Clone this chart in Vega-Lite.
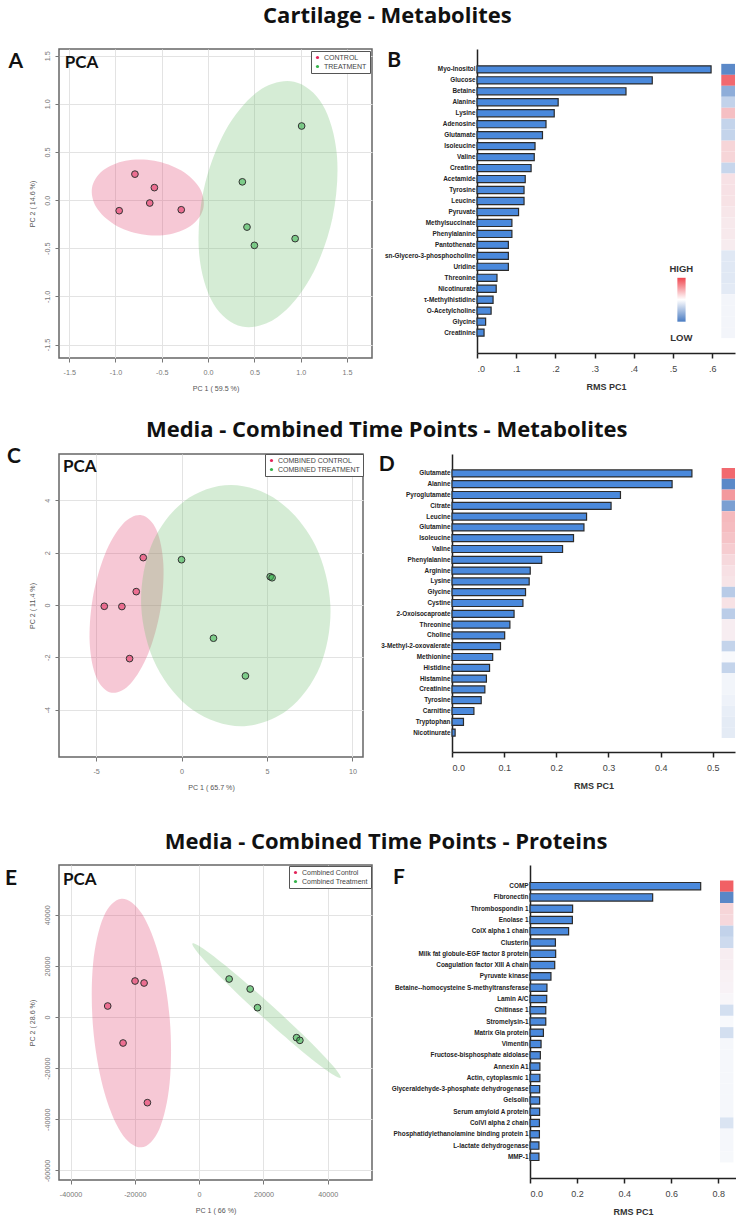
{
  "$schema": "https://vega.github.io/schema/vega-lite/v6.json",
  "padding": {"left": 4, "top": 5, "right": 0, "bottom": 0},
  "config": {
    "font": "Liberation Sans",
    "view": {"stroke": null},
    "title": {"font": "Open Sans", "fontSize": 22, "fontWeight": "bold", "color": "#111"},
    "axis": {"labelFont": "Liberation Sans", "titleFont": "Liberation Sans"},
    "legend": {"orient": "top-right", "offset": 1, "padding": 3, "strokeColor": "#555", "fillColor": "#ffffff", "labelFontSize": 7, "labelColor": "#444", "labelFont": "Liberation Sans", "symbolSize": 10, "symbolType": "circle", "rowPadding": 1, "symbolStrokeWidth": 0, "symbolOpacity": 1, "labelOffset": 3}
  },
  "datasets": {
    "ptsA": [
      {"group": "CONTROL", "pc1": -0.79, "pc2": 0.27},
      {"group": "CONTROL", "pc1": -0.58, "pc2": 0.13},
      {"group": "CONTROL", "pc1": -0.63, "pc2": -0.03},
      {"group": "CONTROL", "pc1": -0.96, "pc2": -0.11},
      {"group": "CONTROL", "pc1": -0.29, "pc2": -0.10},
      {"group": "TREATMENT", "pc1": 1.01, "pc2": 0.77},
      {"group": "TREATMENT", "pc1": 0.37, "pc2": 0.19},
      {"group": "TREATMENT", "pc1": 0.42, "pc2": -0.28},
      {"group": "TREATMENT", "pc1": 0.50, "pc2": -0.47},
      {"group": "TREATMENT", "pc1": 0.94, "pc2": -0.40}
    ],
    "ellA": [
      {"group": "CONTROL", "i": 0, "pc1": -0.049, "pc2": -0.074},
      {"group": "CONTROL", "i": 1, "pc1": -0.165, "pc2": -0.251},
      {"group": "CONTROL", "i": 2, "pc1": -0.411, "pc2": -0.354},
      {"group": "CONTROL", "i": 3, "pc1": -0.721, "pc2": -0.354},
      {"group": "CONTROL", "i": 4, "pc1": -1.013, "pc2": -0.252},
      {"group": "CONTROL", "i": 5, "pc1": -1.207, "pc2": -0.075},
      {"group": "CONTROL", "i": 6, "pc1": -1.253, "pc2": 0.130},
      {"group": "CONTROL", "i": 7, "pc1": -1.137, "pc2": 0.307},
      {"group": "CONTROL", "i": 8, "pc1": -0.891, "pc2": 0.410},
      {"group": "CONTROL", "i": 9, "pc1": -0.581, "pc2": 0.410},
      {"group": "CONTROL", "i": 10, "pc1": -0.289, "pc2": 0.308},
      {"group": "CONTROL", "i": 11, "pc1": -0.095, "pc2": 0.131},
      {"group": "TREATMENT", "i": 0, "pc1": 0.928, "pc2": 1.230},
      {"group": "TREATMENT", "i": 1, "pc1": 1.238, "pc2": 0.989},
      {"group": "TREATMENT", "i": 2, "pc1": 1.391, "pc2": 0.470},
      {"group": "TREATMENT", "i": 3, "pc1": 1.343, "pc2": -0.185},
      {"group": "TREATMENT", "i": 4, "pc1": 1.109, "pc2": -0.802},
      {"group": "TREATMENT", "i": 5, "pc1": 0.752, "pc2": -1.215},
      {"group": "TREATMENT", "i": 6, "pc1": 0.366, "pc2": -1.314},
      {"group": "TREATMENT", "i": 7, "pc1": 0.056, "pc2": -1.073},
      {"group": "TREATMENT", "i": 8, "pc1": -0.097, "pc2": -0.554},
      {"group": "TREATMENT", "i": 9, "pc1": -0.049, "pc2": 0.101},
      {"group": "TREATMENT", "i": 10, "pc1": 0.185, "pc2": 0.718},
      {"group": "TREATMENT", "i": 11, "pc1": 0.542, "pc2": 1.131}
    ],
    "ptsC": [
      {"group": "COMBINED CONTROL", "pc1": -2.24, "pc2": 1.81},
      {"group": "COMBINED CONTROL", "pc1": -2.65, "pc2": 0.51},
      {"group": "COMBINED CONTROL", "pc1": -4.52, "pc2": -0.05},
      {"group": "COMBINED CONTROL", "pc1": -3.49, "pc2": -0.06},
      {"group": "COMBINED CONTROL", "pc1": -3.04, "pc2": -2.05},
      {"group": "COMBINED TREATMENT", "pc1": 0.0, "pc2": 1.73},
      {"group": "COMBINED TREATMENT", "pc1": 5.19, "pc2": 1.08},
      {"group": "COMBINED TREATMENT", "pc1": 5.30, "pc2": 1.04},
      {"group": "COMBINED TREATMENT", "pc1": 1.87, "pc2": -1.27},
      {"group": "COMBINED TREATMENT", "pc1": 3.74, "pc2": -2.71}
    ],
    "ellC": [
      {"group": "COMBINED CONTROL", "i": 0, "pc1": -2.337, "pc2": 3.429},
      {"group": "COMBINED CONTROL", "i": 1, "pc1": -1.465, "pc2": 2.865},
      {"group": "COMBINED CONTROL", "i": 2, "pc1": -1.061, "pc2": 1.544},
      {"group": "COMBINED CONTROL", "i": 3, "pc1": -1.236, "pc2": -0.181},
      {"group": "COMBINED CONTROL", "i": 4, "pc1": -1.941, "pc2": -1.848},
      {"group": "COMBINED CONTROL", "i": 5, "pc1": -2.987, "pc2": -3.009},
      {"group": "COMBINED CONTROL", "i": 6, "pc1": -4.095, "pc2": -3.353},
      {"group": "COMBINED CONTROL", "i": 7, "pc1": -4.967, "pc2": -2.789},
      {"group": "COMBINED CONTROL", "i": 8, "pc1": -5.371, "pc2": -1.468},
      {"group": "COMBINED CONTROL", "i": 9, "pc1": -5.196, "pc2": 0.257},
      {"group": "COMBINED CONTROL", "i": 10, "pc1": -4.491, "pc2": 1.924},
      {"group": "COMBINED CONTROL", "i": 11, "pc1": -3.445, "pc2": 3.085},
      {"group": "COMBINED TREATMENT", "i": 0, "pc1": 2.885, "pc2": 4.586},
      {"group": "COMBINED TREATMENT", "i": 1, "pc1": 5.692, "pc2": 3.968},
      {"group": "COMBINED TREATMENT", "i": 2, "pc1": 7.825, "pc2": 2.281},
      {"group": "COMBINED TREATMENT", "i": 3, "pc1": 8.713, "pc2": -0.025},
      {"group": "COMBINED TREATMENT", "i": 4, "pc1": 8.117, "pc2": -2.331},
      {"group": "COMBINED TREATMENT", "i": 5, "pc1": 6.198, "pc2": -4.018},
      {"group": "COMBINED TREATMENT", "i": 6, "pc1": 3.469, "pc2": -4.636},
      {"group": "COMBINED TREATMENT", "i": 7, "pc1": 0.662, "pc2": -4.018},
      {"group": "COMBINED TREATMENT", "i": 8, "pc1": -1.471, "pc2": -2.331},
      {"group": "COMBINED TREATMENT", "i": 9, "pc1": -2.359, "pc2": -0.025},
      {"group": "COMBINED TREATMENT", "i": 10, "pc1": -1.763, "pc2": 2.281},
      {"group": "COMBINED TREATMENT", "i": 11, "pc1": 0.156, "pc2": 3.968}
    ],
    "ptsE": [
      {"group": "Combined Control", "pc1": -19930, "pc2": 14080},
      {"group": "Combined Control", "pc1": -17120, "pc2": 13300},
      {"group": "Combined Control", "pc1": -28440, "pc2": 4300},
      {"group": "Combined Control", "pc1": -23660, "pc2": -10170},
      {"group": "Combined Control", "pc1": -16090, "pc2": -33510},
      {"group": "Combined Treatment", "pc1": 9340, "pc2": 14860},
      {"group": "Combined Treatment", "pc1": 15880, "pc2": 10950},
      {"group": "Combined Treatment", "pc1": 18160, "pc2": 3650},
      {"group": "Combined Treatment", "pc1": 30310, "pc2": -8080},
      {"group": "Combined Treatment", "pc1": 31340, "pc2": -9130}
    ],
    "ellE": [
      {"group": "Combined Control", "i": 0, "pc1": -24183, "pc2": 46284},
      {"group": "Combined Control", "i": 1, "pc1": -17787, "pc2": 40367},
      {"group": "Combined Control", "i": 2, "pc1": -12271, "pc2": 23007},
      {"group": "Combined Control", "i": 3, "pc1": -9112, "pc2": -1148},
      {"group": "Combined Control", "i": 4, "pc1": -9157, "pc2": -25625},
      {"group": "Combined Control", "i": 5, "pc1": -12393, "pc2": -43861},
      {"group": "Combined Control", "i": 6, "pc1": -17955, "pc2": -50978},
      {"group": "Combined Control", "i": 7, "pc1": -24351, "pc2": -45061},
      {"group": "Combined Control", "i": 8, "pc1": -29867, "pc2": -27701},
      {"group": "Combined Control", "i": 9, "pc1": -33026, "pc2": -3546},
      {"group": "Combined Control", "i": 10, "pc1": -32981, "pc2": 20931},
      {"group": "Combined Control", "i": 11, "pc1": -29745, "pc2": 39167},
      {"group": "Combined Treatment", "i": 0, "pc1": 44006, "pc2": -23794},
      {"group": "Combined Treatment", "i": 1, "pc1": 40151, "pc2": -21337},
      {"group": "Combined Treatment", "i": 2, "pc1": 31156, "pc2": -12499},
      {"group": "Combined Treatment", "i": 3, "pc1": 19429, "pc2": 352},
      {"group": "Combined Treatment", "i": 4, "pc1": 8114, "pc2": 13773},
      {"group": "Combined Treatment", "i": 5, "pc1": 243, "pc2": 24165},
      {"group": "Combined Treatment", "i": 6, "pc1": -2076, "pc2": 28748},
      {"group": "Combined Treatment", "i": 7, "pc1": 1779, "pc2": 26291},
      {"group": "Combined Treatment", "i": 8, "pc1": 10774, "pc2": 17453},
      {"group": "Combined Treatment", "i": 9, "pc1": 22501, "pc2": 4602},
      {"group": "Combined Treatment", "i": 10, "pc1": 33816, "pc2": -8819},
      {"group": "Combined Treatment", "i": 11, "pc1": 41687, "pc2": -19211}
    ],
    "barB": [
      {"name": "Myo-Inositol", "rms": 0.597, "z": -0.90},
      {"name": "Glucose", "rms": 0.447, "z": 0.87},
      {"name": "Betaine", "rms": 0.380, "z": -0.61},
      {"name": "Alanine", "rms": 0.207, "z": -0.31},
      {"name": "Lysine", "rms": 0.197, "z": 0.35},
      {"name": "Adenosine", "rms": 0.176, "z": -0.30},
      {"name": "Glutamate", "rms": 0.167, "z": -0.30},
      {"name": "Isoleucine", "rms": 0.148, "z": 0.22},
      {"name": "Valine", "rms": 0.146, "z": 0.22},
      {"name": "Creatine", "rms": 0.138, "z": -0.28},
      {"name": "Acetamide", "rms": 0.123, "z": 0.145},
      {"name": "Tyrosine", "rms": 0.120, "z": 0.145},
      {"name": "Leucine", "rms": 0.120, "z": 0.14},
      {"name": "Pyruvate", "rms": 0.106, "z": 0.115},
      {"name": "Methylsuccinate", "rms": 0.089, "z": 0.10},
      {"name": "Phenylalanine", "rms": 0.089, "z": 0.10},
      {"name": "Pantothenate", "rms": 0.080, "z": 0.08},
      {"name": "sn-Glycero-3-phosphocholine", "rms": 0.080, "z": -0.14},
      {"name": "Uridine", "rms": 0.080, "z": -0.14},
      {"name": "Threonine", "rms": 0.051, "z": -0.14},
      {"name": "Nicotinurate", "rms": 0.049, "z": -0.12},
      {"name": "τ-Methylhistidine", "rms": 0.041, "z": -0.03},
      {"name": "O-Acetylcholine", "rms": 0.036, "z": -0.03},
      {"name": "Glycine", "rms": 0.022, "z": -0.03},
      {"name": "Creatinine", "rms": 0.018, "z": -0.03}
    ],
    "barD": [
      {"name": "Glutamate", "rms": 0.460, "z": 0.87},
      {"name": "Alanine", "rms": 0.422, "z": -0.90},
      {"name": "Pyroglutamate", "rms": 0.323, "z": 0.58},
      {"name": "Citrate", "rms": 0.305, "z": -0.72},
      {"name": "Leucine", "rms": 0.258, "z": 0.39},
      {"name": "Glutamine", "rms": 0.253, "z": 0.37},
      {"name": "Isoleucine", "rms": 0.233, "z": 0.33},
      {"name": "Valine", "rms": 0.212, "z": 0.27},
      {"name": "Phenylalanine", "rms": 0.172, "z": 0.20},
      {"name": "Arginine", "rms": 0.150, "z": 0.15},
      {"name": "Lysine", "rms": 0.148, "z": 0.13},
      {"name": "Glycine", "rms": 0.141, "z": -0.37},
      {"name": "Cystine", "rms": 0.136, "z": 0.14},
      {"name": "2-Oxoisocaproate", "rms": 0.119, "z": -0.35},
      {"name": "Threonine", "rms": 0.111, "z": 0.07},
      {"name": "Choline", "rms": 0.101, "z": 0.07},
      {"name": "3-Methyl-2-oxovalerate", "rms": 0.093, "z": -0.30},
      {"name": "Methionine", "rms": 0.078, "z": 0.0},
      {"name": "Histidine", "rms": 0.072, "z": -0.30},
      {"name": "Histamine", "rms": 0.066, "z": -0.035},
      {"name": "Creatinine", "rms": 0.063, "z": -0.035},
      {"name": "Tyrosine", "rms": 0.056, "z": -0.06},
      {"name": "Carnitine", "rms": 0.042, "z": -0.09},
      {"name": "Tryptophan", "rms": 0.022, "z": -0.115},
      {"name": "Nicotinurate", "rms": 0.006, "z": -0.115}
    ],
    "barF": [
      {"name": "COMP", "rms": 0.725, "z": 0.93},
      {"name": "Fibronectin", "rms": 0.521, "z": -0.91},
      {"name": "Thrombospondin 1", "rms": 0.181, "z": 0.22},
      {"name": "Enolase 1", "rms": 0.180, "z": 0.20},
      {"name": "ColX alpha 1 chain", "rms": 0.164, "z": -0.31},
      {"name": "Clusterin", "rms": 0.108, "z": -0.25},
      {"name": "Milk fat globule-EGF factor 8 protein", "rms": 0.109, "z": 0.07},
      {"name": "Coagulation factor XIII A chain", "rms": 0.105, "z": 0.07},
      {"name": "Pyruvate kinase", "rms": 0.089, "z": 0.05},
      {"name": "Betaine--homocysteine S-methyltransferase", "rms": 0.072, "z": 0.04},
      {"name": "Lamin A/C", "rms": 0.071, "z": 0.02},
      {"name": "Chitinase 1", "rms": 0.067, "z": -0.21},
      {"name": "Stromelysin-1", "rms": 0.067, "z": 0.0},
      {"name": "Matrix Gla protein", "rms": 0.057, "z": -0.21},
      {"name": "Vimentin", "rms": 0.047, "z": -0.02},
      {"name": "Fructose-bisphosphate aldolase", "rms": 0.044, "z": -0.02},
      {"name": "Annexin A1", "rms": 0.042, "z": -0.02},
      {"name": "Actin, cytoplasmic 1", "rms": 0.042, "z": -0.02},
      {"name": "Glyceraldehyde-3-phosphate dehydrogenase", "rms": 0.041, "z": -0.02},
      {"name": "Gelsolin", "rms": 0.041, "z": -0.02},
      {"name": "Serum amyloid A protein", "rms": 0.041, "z": -0.02},
      {"name": "ColVI alpha 2 chain", "rms": 0.040, "z": -0.17},
      {"name": "Phosphatidylethanolamine binding protein 1", "rms": 0.040, "z": -0.02},
      {"name": "L-lactate dehydrogenase", "rms": 0.038, "z": -0.02},
      {"name": "MMP-1", "rms": 0.038, "z": -0.01}
    ]
  },
  "resolve": {"scale": {"fill": "independent", "color": "independent"}, "legend": {"fill": "independent", "color": "independent"}},
  "spacing": 39,
  "vconcat": [
    {
      "spacing": 25,
      "resolve": {"scale": {"fill": "independent", "color": "independent"}, "legend": {"fill": "independent", "color": "independent"}},
      "vconcat": [
        {
          "title": {"text": "Cartilage - Metabolites", "anchor": "middle", "offset": 20, "dx": 16},
          "spacing": 11,
          "resolve": {"scale": {"fill": "independent", "color": "independent"}, "legend": {"fill": "independent", "color": "independent"}},
          "hconcat": [
            {
              "width": 313, "height": 309,
              "view": {"stroke": "#666", "strokeWidth": 1.5},
              "layer": [
                {
                  "data": {"name": "ellA"},
                  "transform": [{"filter": {"field": "group", "equal": "CONTROL"}}],
                  "mark": {"type": "line", "interpolate": "cardinal-closed", "fill": "#e14873", "fillOpacity": 0.3, "strokeOpacity": 0},
                  "encoding": {
                    "x": {"field": "pc1", "type": "quantitative", "scale": {"domain": [-1.61, 1.77], "nice": false, "zero": false}},
                    "y": {"field": "pc2", "type": "quantitative", "scale": {"domain": [-1.64, 1.57], "nice": false, "zero": false}},
                    "order": {"field": "i", "type": "quantitative"}
                  }
                },
                {
                  "data": {"name": "ellA"},
                  "transform": [{"filter": {"field": "group", "equal": "TREATMENT"}}],
                  "mark": {"type": "line", "interpolate": "cardinal-closed", "fill": "#73c073", "fillOpacity": 0.3, "strokeOpacity": 0},
                  "encoding": {
                    "x": {"field": "pc1", "type": "quantitative"},
                    "y": {"field": "pc2", "type": "quantitative"},
                    "order": {"field": "i", "type": "quantitative"}
                  }
                },
                {
                  "data": {"name": "ptsA"},
                  "mark": {"type": "point", "filled": true, "size": 45, "stroke": "#333", "strokeWidth": 1, "fillOpacity": 0.55, "strokeOpacity": 1},
                  "encoding": {
                    "x": {"field": "pc1", "type": "quantitative", "axis": {"title": "PC 1 ( 59.5 %)", "values": [-1.5, -1, -0.5, 0, 0.5, 1, 1.5], "format": ".1f", "labelExpr": "replace(datum.label, '−', '-')", "grid": true, "gridColor": "#e3e3e3", "domain": false, "tickColor": "#777", "tickSize": 4, "labelFontSize": 7.2, "labelColor": "#777", "labelPadding": 6, "titleFontSize": 7.1, "titleColor": "#555", "titleFontWeight": "normal", "titlePadding": 9}},
                    "y": {"field": "pc2", "type": "quantitative", "axis": {"title": "PC 2 ( 14.6 %)", "values": [-1.5, -1, -0.5, 0, 0.5, 1, 1.5], "format": ".1f", "labelExpr": "replace(datum.label, '−', '-')", "grid": true, "gridColor": "#e3e3e3", "domain": false, "tickColor": "#777", "tickSize": 4, "labelFontSize": 7.2, "labelColor": "#777", "labelAngle": 270, "labelAlign": "center", "labelBaseline": "bottom", "labelPadding": 3.5, "titleFontSize": 7.1, "titleColor": "#555", "titleFontWeight": "normal", "titlePadding": 8}},
                    "fill": {"field": "group", "type": "nominal", "scale": {"domain": ["CONTROL", "TREATMENT"], "range": ["#e3245a", "#35b34a"]}, "legend": {"title": null, "offset": 2}}
                  }
                },
                {
                  "data": {"values": [{}]},
                  "mark": {"type": "text", "text": "PCA", "font": "Lato", "fontWeight": "bold", "fontSize": 17, "align": "left", "baseline": "alphabetic", "color": "#111"},
                  "encoding": {"x": {"datum": -1.548}, "y": {"datum": 1.377}}
                },
                {
                  "data": {"values": [{}]},
                  "mark": {"type": "text", "text": "A", "font": "Lato", "fontWeight": "bold", "fontSize": 21, "align": "center", "baseline": "alphabetic", "color": "#111"},
                  "encoding": {"x": {"datum": -2.077}, "y": {"datum": 1.374}}
                }
              ]
            },
            {
              "width": 258, "height": 304,
              "data": {"name": "barB"},
              "layer": [
                {
                  "mark": {"type": "bar", "fill": "#4a89dc", "stroke": "#2b2b2b", "strokeWidth": 1.2},
                  "encoding": {
                    "y": {"field": "name", "type": "nominal", "scale": {"domain": ["", "Myo-Inositol", "Glucose", "Betaine", "Alanine", "Lysine", "Adenosine", "Glutamate", "Isoleucine", "Valine", "Creatine", "Acetamide", "Tyrosine", "Leucine", "Pyruvate", "Methylsuccinate", "Phenylalanine", "Pantothenate", "sn-Glycero-3-phosphocholine", "Uridine", "Threonine", "Nicotinurate", "τ-Methylhistidine", "O-Acetylcholine", "Glycine", "Creatinine", " "], "paddingInner": 0.35, "paddingOuter": 0.53}, "axis": {"title": null, "domainColor": "#222", "domainWidth": 1.5, "ticks": false, "labelFontSize": 6.4, "labelFontWeight": "bold", "labelColor": "#222", "labelPadding": 2, "labelLimit": 300}},
                    "x": {"field": "rms", "type": "quantitative", "scale": {"domain": [0, 0.658], "nice": false}, "axis": {"title": "RMS PC1", "values": [0, 0.1, 0.2, 0.3, 0.4, 0.5, 0.6], "format": ".1f", "labelExpr": "replace(datum.label, '0.', '.')", "grid": false, "domainColor": "#222", "domainWidth": 1.5, "tickColor": "#222", "tickWidth": 1.5, "tickSize": 5, "labelFontSize": 9, "labelColor": "#444", "labelPadding": 6, "titleFontSize": 9, "titleFontWeight": "bold", "titleColor": "#333", "titlePadding": 9}}
                  }
                },
                {
                  "mark": {"type": "bar", "height": {"band": 1.54}},
                  "encoding": {
                    "y": {"field": "name", "type": "nominal"},
                    "x": {"datum": 0.623},
                    "x2": {"datum": 0.658},
                    "color": {"field": "z", "type": "quantitative", "scale": {"domain": [-1, 0, 1], "range": ["#4a7cc2", "#f8f9fc", "#f0545a"], "interpolate": "rgb"}, "legend": null}
                  }
                },
                {
                  "data": {"values": [{}]},
                  "mark": {"type": "text", "text": "HIGH", "fontWeight": "bold", "fontSize": 9.5, "align": "center", "baseline": "middle", "color": "#333", "dy": 2.5},
                  "encoding": {"x": {"datum": 0.521}, "y": {"datum": "Uridine"}}
                },
                {
                  "data": {"values": [{}]},
                  "mark": {"type": "rect", "fill": {"gradient": "linear", "x1": 0, "y1": 0, "x2": 0, "y2": 1, "stops": [{"offset": 0, "color": "#f0464f"}, {"offset": 0.42, "color": "#fce4e6"}, {"offset": 0.5, "color": "#ffffff"}, {"offset": 0.58, "color": "#e4eaf5"}, {"offset": 1, "color": "#4a7cc2"}]}},
                  "encoding": {"x": {"datum": 0.511}, "x2": {"datum": 0.532}, "y": {"datum": "Threonine"}, "y2": {"datum": "Glycine"}}
                },
                {
                  "data": {"values": [{}]},
                  "mark": {"type": "text", "text": "LOW", "fontWeight": "bold", "fontSize": 9.5, "align": "center", "baseline": "middle", "color": "#333", "dy": 5.5},
                  "encoding": {"x": {"datum": 0.521}, "y": {"datum": "Creatinine"}}
                },
                {
                  "data": {"values": [{}]},
                  "mark": {"type": "text", "text": "B", "font": "Lato", "fontWeight": "bold", "fontSize": 21, "align": "center", "baseline": "alphabetic", "color": "#111", "dy": -2},
                  "encoding": {"x": {"datum": -0.211}, "y": {"datum": "Myo-Inositol"}}
                }
              ]
            }
          ]
        },
        {
          "title": {"text": "Media - Combined Time Points - Metabolites", "anchor": "middle", "offset": 3, "dx": 16},
          "spacing": 13,
          "resolve": {"scale": {"fill": "independent", "color": "independent"}, "legend": {"fill": "independent", "color": "independent"}},
          "hconcat": [
            {
              "width": 304, "height": 303,
              "view": {"stroke": "#666", "strokeWidth": 1.5},
              "layer": [
                {
                  "data": {"name": "ellC"},
                  "transform": [{"filter": {"field": "group", "equal": "COMBINED CONTROL"}}],
                  "mark": {"type": "line", "interpolate": "cardinal-closed", "fill": "#e14873", "fillOpacity": 0.3, "strokeOpacity": 0},
                  "encoding": {
                    "x": {"field": "pc1", "type": "quantitative", "scale": {"domain": [-7.17, 10.62], "nice": false, "zero": false}},
                    "y": {"field": "pc2", "type": "quantitative", "scale": {"domain": [-5.81, 5.77], "nice": false, "zero": false}},
                    "order": {"field": "i", "type": "quantitative"}
                  }
                },
                {
                  "data": {"name": "ellC"},
                  "transform": [{"filter": {"field": "group", "equal": "COMBINED TREATMENT"}}],
                  "mark": {"type": "line", "interpolate": "cardinal-closed", "fill": "#73c073", "fillOpacity": 0.3, "strokeOpacity": 0},
                  "encoding": {
                    "x": {"field": "pc1", "type": "quantitative"},
                    "y": {"field": "pc2", "type": "quantitative"},
                    "order": {"field": "i", "type": "quantitative"}
                  }
                },
                {
                  "data": {"name": "ptsC"},
                  "mark": {"type": "point", "filled": true, "size": 45, "stroke": "#333", "strokeWidth": 1, "fillOpacity": 0.55, "strokeOpacity": 1},
                  "encoding": {
                    "x": {"field": "pc1", "type": "quantitative", "axis": {"title": "PC 1 ( 65.7 %)", "values": [-5, 0, 5, 10], "format": "d", "labelExpr": "replace(datum.label, '−', '-')", "grid": true, "gridColor": "#e3e3e3", "domain": false, "tickColor": "#777", "tickSize": 4, "labelFontSize": 7.2, "labelColor": "#777", "labelPadding": 6, "titleFontSize": 7.1, "titleColor": "#555", "titleFontWeight": "normal", "titlePadding": 9}},
                    "y": {"field": "pc2", "type": "quantitative", "axis": {"title": "PC 2 ( 11.4 %)", "values": [-4, -2, 0, 2, 4], "format": "d", "labelExpr": "replace(datum.label, '−', '-')", "grid": true, "gridColor": "#e3e3e3", "domain": false, "tickColor": "#777", "tickSize": 4, "labelFontSize": 7.2, "labelColor": "#777", "labelAngle": 270, "labelAlign": "center", "labelBaseline": "bottom", "labelPadding": 3.5, "titleFontSize": 7.1, "titleColor": "#555", "titleFontWeight": "normal", "titlePadding": 8}},
                    "fill": {"field": "group", "type": "nominal", "scale": {"domain": ["COMBINED CONTROL", "COMBINED TREATMENT"], "range": ["#e3245a", "#35b34a"]}, "legend": {"title": null, "offset": 0}}
                  }
                },
                {
                  "data": {"values": [{}]},
                  "mark": {"type": "text", "text": "PCA", "font": "Lato", "fontWeight": "bold", "fontSize": 17, "align": "left", "baseline": "alphabetic", "color": "#111"},
                  "encoding": {"x": {"datum": -6.94}, "y": {"datum": 5.08}}
                },
                {
                  "data": {"values": [{}]},
                  "mark": {"type": "text", "text": "C", "font": "Lato", "fontWeight": "bold", "fontSize": 21, "align": "center", "baseline": "alphabetic", "color": "#111"},
                  "encoding": {"x": {"datum": -9.80}, "y": {"datum": 5.44}}
                }
              ]
            },
            {
              "width": 283, "height": 298,
              "data": {"name": "barD"},
              "layer": [
                {
                  "mark": {"type": "bar", "fill": "#4a89dc", "stroke": "#2b2b2b", "strokeWidth": 1.2},
                  "encoding": {
                    "y": {"field": "name", "type": "nominal", "scale": {"domain": ["", "Glutamate", "Alanine", "Pyroglutamate", "Citrate", "Leucine", "Glutamine", "Isoleucine", "Valine", "Phenylalanine", "Arginine", "Lysine", "Glycine", "Cystine", "2-Oxoisocaproate", "Threonine", "Choline", "3-Methyl-2-oxovalerate", "Methionine", "Histidine", "Histamine", "Creatinine", "Tyrosine", "Carnitine", "Tryptophan", "Nicotinurate", " "], "paddingInner": 0.35, "paddingOuter": 0.47}, "axis": {"title": null, "domainColor": "#222", "domainWidth": 1.5, "ticks": false, "labelFontSize": 6.4, "labelFontWeight": "bold", "labelColor": "#222", "labelPadding": 2, "labelLimit": 300}},
                    "x": {"field": "rms", "type": "quantitative", "scale": {"domain": [0, 0.5426], "nice": false}, "axis": {"title": "RMS PC1", "values": [0, 0.1, 0.2, 0.3, 0.4, 0.5], "format": ".1f", "grid": false, "domainColor": "#222", "domainWidth": 1.5, "tickColor": "#222", "tickWidth": 1.5, "tickSize": 5, "labelFontSize": 9, "labelColor": "#444", "labelPadding": 6, "titleFontSize": 9, "titleFontWeight": "bold", "titleColor": "#333", "titlePadding": 9}}
                  }
                },
                {
                  "mark": {"type": "bar", "height": {"band": 1.54}},
                  "encoding": {
                    "y": {"field": "name", "type": "nominal"},
                    "x": {"datum": 0.517},
                    "x2": {"datum": 0.5426},
                    "color": {"field": "z", "type": "quantitative", "scale": {"domain": [-1, 0, 1], "range": ["#4a7cc2", "#f8f9fc", "#f0545a"], "interpolate": "rgb"}, "legend": null}
                  }
                },
                {
                  "data": {"values": [{}]},
                  "mark": {"type": "text", "text": "D", "font": "Lato", "fontWeight": "bold", "fontSize": 21, "align": "center", "baseline": "alphabetic", "color": "#111", "dy": -2},
                  "encoding": {"x": {"datum": -0.125}, "y": {"datum": "Glutamate"}}
                }
              ]
            }
          ]
        }
      ]
    },
    {
      "title": {"text": "Media - Combined Time Points - Proteins", "anchor": "middle", "offset": 10, "dx": 16},
      "spacing": 18,
      "resolve": {"scale": {"fill": "independent", "color": "independent"}, "legend": {"fill": "independent", "color": "independent"}},
      "hconcat": [
        {
          "width": 313, "height": 315,
          "view": {"stroke": "#666", "strokeWidth": 1.5},
          "layer": [
            {
              "data": {"name": "ellE"},
              "transform": [{"filter": {"field": "group", "equal": "Combined Control"}}],
              "mark": {"type": "line", "interpolate": "cardinal-closed", "fill": "#e14873", "fillOpacity": 0.3, "strokeOpacity": 0},
              "encoding": {
                "x": {"field": "pc1", "type": "quantitative", "scale": {"domain": [-43590, 53780], "nice": false, "zero": false}},
                "y": {"field": "pc2", "type": "quantitative", "scale": {"domain": [-63760, 59460], "nice": false, "zero": false}},
                "order": {"field": "i", "type": "quantitative"}
              }
            },
            {
              "data": {"name": "ellE"},
              "transform": [{"filter": {"field": "group", "equal": "Combined Treatment"}}],
              "mark": {"type": "line", "interpolate": "cardinal-closed", "fill": "#73c073", "fillOpacity": 0.3, "strokeOpacity": 0},
              "encoding": {
                "x": {"field": "pc1", "type": "quantitative"},
                "y": {"field": "pc2", "type": "quantitative"},
                "order": {"field": "i", "type": "quantitative"}
              }
            },
            {
              "data": {"name": "ptsE"},
              "mark": {"type": "point", "filled": true, "size": 45, "stroke": "#333", "strokeWidth": 1, "fillOpacity": 0.55, "strokeOpacity": 1},
              "encoding": {
                "x": {"field": "pc1", "type": "quantitative", "axis": {"title": "PC 1 ( 66 %)", "values": [-40000, -20000, 0, 20000, 40000], "format": "d", "labelExpr": "replace(datum.label, '−', '-')", "grid": true, "gridColor": "#e3e3e3", "domain": false, "tickColor": "#777", "tickSize": 4, "labelFontSize": 7.2, "labelColor": "#777", "labelPadding": 6, "titleFontSize": 7.1, "titleColor": "#555", "titleFontWeight": "normal", "titlePadding": 9}},
                "y": {"field": "pc2", "type": "quantitative", "axis": {"title": "PC 2 ( 28.6 %)", "values": [-60000, -40000, -20000, 0, 20000, 40000], "format": "d", "labelExpr": "replace(datum.label, '−', '-')", "grid": true, "gridColor": "#e3e3e3", "domain": false, "tickColor": "#777", "tickSize": 4, "labelFontSize": 7.2, "labelColor": "#777", "labelAngle": 270, "labelAlign": "center", "labelBaseline": "bottom", "labelPadding": 3.5, "titleFontSize": 7.1, "titleColor": "#555", "titleFontWeight": "normal", "titlePadding": 8}},
                "fill": {"field": "group", "type": "nominal", "scale": {"domain": ["Combined Control", "Combined Treatment"], "range": ["#e3245a", "#35b34a"]}, "legend": {"title": null, "offset": 1}}
              }
            },
            {
              "data": {"values": [{}]},
              "mark": {"type": "text", "text": "PCA", "font": "Lato", "fontWeight": "bold", "fontSize": 17, "align": "left", "baseline": "alphabetic", "color": "#111"},
              "encoding": {"x": {"datum": -42350}, "y": {"datum": 51750}}
            },
            {
              "data": {"values": [{}]},
              "mark": {"type": "text", "text": "E", "font": "Lato", "fontWeight": "bold", "fontSize": 21, "align": "center", "baseline": "alphabetic", "color": "#111"},
              "encoding": {"x": {"datum": -58540}, "y": {"datum": 51750}}
            }
          ]
        },
        {
          "width": 206, "height": 313,
          "data": {"name": "barF"},
          "layer": [
            {
              "mark": {"type": "bar", "fill": "#4a89dc", "stroke": "#2b2b2b", "strokeWidth": 1.2},
              "encoding": {
                "y": {"field": "name", "type": "nominal", "scale": {"domain": ["", "COMP", "Fibronectin", "Thrombospondin 1", "Enolase 1", "ColX alpha 1 chain", "Clusterin", "Milk fat globule-EGF factor 8 protein", "Coagulation factor XIII A chain", "Pyruvate kinase", "Betaine--homocysteine S-methyltransferase", "Lamin A/C", "Chitinase 1", "Stromelysin-1", "Matrix Gla protein", "Vimentin", "Fructose-bisphosphate aldolase", "Annexin A1", "Actin, cytoplasmic 1", "Glyceraldehyde-3-phosphate dehydrogenase", "Gelsolin", "Serum amyloid A protein", "ColVI alpha 2 chain", "Phosphatidylethanolamine binding protein 1", "L-lactate dehydrogenase", "MMP-1", " "], "paddingInner": 0.35, "paddingOuter": 0.55}, "axis": {"title": null, "domainColor": "#222", "domainWidth": 1.5, "ticks": false, "labelFontSize": 6.4, "labelFontWeight": "bold", "labelColor": "#222", "labelPadding": 2, "labelLimit": 300}},
                "x": {"field": "rms", "type": "quantitative", "scale": {"domain": [0, 0.875], "nice": false}, "axis": {"title": "RMS PC1", "values": [0, 0.2, 0.4, 0.6, 0.8], "format": ".1f", "grid": false, "domainColor": "#222", "domainWidth": 1.5, "tickColor": "#222", "tickWidth": 1.5, "tickSize": 5, "labelFontSize": 9, "labelColor": "#444", "labelPadding": 6, "titleFontSize": 9, "titleFontWeight": "bold", "titleColor": "#333", "titlePadding": 9}}
              }
            },
            {
              "mark": {"type": "bar", "height": {"band": 1.54}},
              "encoding": {
                "y": {"field": "name", "type": "nominal"},
                "x": {"datum": 0.807},
                "x2": {"datum": 0.864},
                "color": {"field": "z", "type": "quantitative", "scale": {"domain": [-1, 0, 1], "range": ["#4a7cc2", "#f8f9fc", "#f0545a"], "interpolate": "rgb"}, "legend": null}
              }
            },
            {
              "data": {"values": [{}]},
              "mark": {"type": "text", "text": "F", "font": "Lato", "fontWeight": "bold", "fontSize": 21, "align": "center", "baseline": "alphabetic", "color": "#111", "dy": -2.6},
              "encoding": {"x": {"datum": -0.557}, "y": {"datum": "COMP"}}
            }
          ]
        }
      ]
    }
  ]
}
